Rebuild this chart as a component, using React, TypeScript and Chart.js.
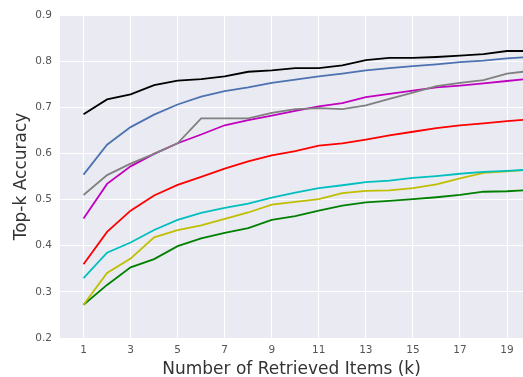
import React, { useEffect, useRef } from "react";
import { Chart, registerables } from "chart.js";

Chart.register(...registerables);

const kValues = [1, 2, 3, 4, 5, 6, 7, 8, 9, 10, 11, 12, 13, 14, 15, 16, 17, 18, 19, 20];
const xTickValues = [1, 3, 5, 7, 9, 11, 13, 15, 17, 19];
const yTickValues = [0.2, 0.3, 0.4, 0.5, 0.6, 0.7, 0.8, 0.9];

const blackSeries = [0.685, 0.717, 0.728, 0.748, 0.758, 0.761, 0.767, 0.777, 0.78, 0.785, 0.785, 0.791, 0.802, 0.807, 0.807, 0.809, 0.812, 0.815, 0.822, 0.822];
const blueSeries = [0.554, 0.619, 0.657, 0.684, 0.706, 0.723, 0.735, 0.743, 0.753, 0.76, 0.767, 0.773, 0.78, 0.785, 0.789, 0.793, 0.798, 0.801, 0.806, 0.809];
const graySeries = [0.51, 0.553, 0.578, 0.599, 0.622, 0.676, 0.676, 0.676, 0.688, 0.696, 0.698, 0.696, 0.704, 0.718, 0.732, 0.746, 0.753, 0.759, 0.773, 0.779];
const magentaSeries = [0.459, 0.534, 0.572, 0.599, 0.622, 0.641, 0.661, 0.672, 0.682, 0.692, 0.702, 0.709, 0.722, 0.729, 0.736, 0.743, 0.747, 0.752, 0.757, 0.762];
const redSeries = [0.36, 0.43, 0.476, 0.509, 0.532, 0.549, 0.567, 0.583, 0.596, 0.605, 0.617, 0.622, 0.63, 0.639, 0.647, 0.655, 0.661, 0.665, 0.67, 0.674];
const cyanSeries = [0.33, 0.385, 0.407, 0.434, 0.456, 0.471, 0.482, 0.491, 0.504, 0.515, 0.525, 0.531, 0.538, 0.541, 0.547, 0.551, 0.556, 0.56, 0.562, 0.565];
const yellowSeries = [0.272, 0.341, 0.372, 0.418, 0.434, 0.444, 0.458, 0.472, 0.489, 0.495, 0.501, 0.514, 0.519, 0.52, 0.525, 0.533, 0.546, 0.558, 0.561, 0.565];
const greenSeries = [0.272, 0.315, 0.353, 0.371, 0.399, 0.416, 0.428, 0.438, 0.456, 0.464, 0.476, 0.487, 0.494, 0.497, 0.501, 0.505, 0.51, 0.517, 0.518, 0.521];

const seriesList = [
  { name: "black", values: blackSeries, color: "#000000" },
  { name: "blue", values: blueSeries, color: "#4C72B0" },
  { name: "gray", values: graySeries, color: "#808080" },
  { name: "magenta", values: magentaSeries, color: "#BF00BF" },
  { name: "red", values: redSeries, color: "#FF0000" },
  { name: "cyan", values: cyanSeries, color: "#00BFBF" },
  { name: "yellow", values: yellowSeries, color: "#BFBF00" },
  { name: "green", values: greenSeries, color: "#008000" },
];

const bgPlugin = {
  id: "plotBg",
  beforeDraw(chart: any) {
    const { ctx, chartArea } = chart;
    ctx.save();
    ctx.fillStyle = "#EAEAF2";
    ctx.fillRect(chartArea.left, chartArea.top, chartArea.right - chartArea.left, chartArea.bottom - chartArea.top);
    ctx.restore();
  },
};

export default function App() {
  const ref = useRef<HTMLCanvasElement | null>(null);
  useEffect(() => {
    document.body.style.margin = "0";
    const canvas = ref.current;
    if (!canvas) return;
    const font = "'DejaVu Sans', sans-serif";
    const chart = new Chart(canvas, {
      type: "line",
      data: {
        datasets: seriesList.map((s) => ({
          label: s.name,
          data: s.values.map((v, i) => ({ x: kValues[i], y: v })),
          borderColor: s.color,
          backgroundColor: s.color,
          borderWidth: 1.8,
          pointRadius: 0,
          tension: 0,
          fill: false,
        })),
      },
      options: {
        animation: false,
        responsive: false,
        maintainAspectRatio: false,
        layout: { padding: { top: 15, right: 0, left: 0, bottom: 0 } },
        plugins: { legend: { display: false }, tooltip: { enabled: false } },
        scales: {
          x: {
            type: "linear",
            min: 0,
            max: 19.68,
            afterBuildTicks: (scale: any) => {
              scale.ticks = xTickValues.map((v) => ({ value: v }));
            },
            afterFit: (scale: any) => {
              scale.height = 39;
            },
            grid: { color: "#FFFFFF", lineWidth: 1, drawTicks: false },
            border: { display: false },
            ticks: { color: "#555555", font: { family: font, size: 10.5 }, padding: 6, maxRotation: 0, autoSkip: false },
            title: { display: true, text: "Number of Retrieved Items (k)", color: "#333333", font: { family: font, size: 17 }, padding: { top: 0, bottom: -3 } },
          },
          y: {
            min: 0.2,
            max: 0.9,
            afterBuildTicks: (scale: any) => {
              scale.ticks = yTickValues.map((v) => ({ value: v }));
            },
            afterFit: (scale: any) => {
              scale.width = 60;
            },
            grid: { color: "#FFFFFF", lineWidth: 1, drawTicks: false },
            border: { display: false },
            ticks: {
              color: "#555555",
              font: { family: font, size: 10.5 },
              padding: 8,
              callback: (v: any) => Number(v).toFixed(1),
            },
            title: { display: true, text: "Top-k Accuracy", color: "#333333", font: { family: font, size: 17 }, padding: { top: 11, bottom: 0 } },
          },
        },
      },
      plugins: [bgPlugin],
    });
    return () => chart.destroy();
  }, []);
  return (
    <div style={{ width: 523, height: 377 }}>
      <canvas ref={ref} width={523} height={377} style={{ display: "block", width: 523, height: 377 }} />
    </div>
  );
}
